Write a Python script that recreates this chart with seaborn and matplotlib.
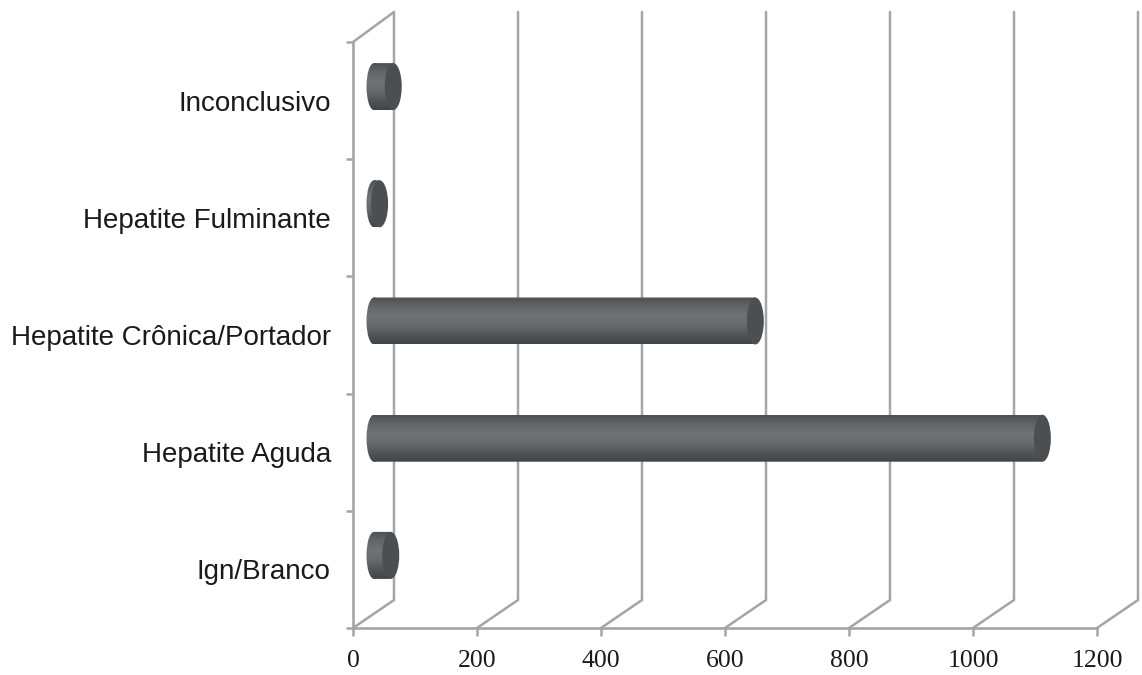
import numpy as np
import pandas as pd
import matplotlib
matplotlib.use("Agg")
import matplotlib.pyplot as plt
import seaborn as sns
from matplotlib.colors import LinearSegmentedColormap
from matplotlib.patches import Ellipse
from matplotlib.path import Path
from matplotlib.transforms import Affine2D

# DATEN

categories = ["Inconclusivo", "Hepatite Fulminante", "Hepatite Crônica/Portador", "Hepatite Aguda", "Ign/Branco"]
values = [31, 9, 615, 1078, 27]
x_ticks = [0, 200, 400, 600, 800, 1000, 1200]

# GEOMETRIE (Pixel des Bildes -> Datenkoordinaten)

PX_X = 744 / 1200      # Pixel pro Einheit auf der x-Achse
PX_Y = 117.2           # Pixel pro Kategorie
DEPTH_X = 41 / PX_X    # Versatz der Rückwand
DEPTH_Y = 28 / PX_Y
BAR_DX = 21 / PX_X     # Balken sitzen in der Mitte der Tiefe
BAR_DY = -14 / PX_Y
CAP_W = 17 / PX_X
LEFT_CAP_W = 15 / PX_X
LINE = "#a4a6a6"

sns.set_style("white")
fig = plt.figure(figsize=(11.42, 6.75), dpi=100)
ax = fig.add_axes([353 / 1142, 47 / 675, 789 / 1142, 616 / 675])

df = pd.DataFrame({"kategorie": categories, "wert": values})
sns.barplot(data=df, x="wert", y="kategorie", orient="h", width=47 / PX_Y,
            color="#555a5d", saturation=1, ax=ax, zorder=3)

x_max = 789 / PX_X
y_top = -0.5 - 30 / PX_Y

# Rückwand: Gitterlinien schräg nach hinten, dann senkrecht nach oben
for t in x_ticks:
    ax.plot([t, t + DEPTH_X, t + DEPTH_X], [4.5, 4.5 - DEPTH_Y, y_top],
            color=LINE, lw=1.8, zorder=1, clip_on=False, solid_joinstyle="miter")
ax.plot([0, DEPTH_X], [-0.5, y_top], color=LINE, lw=1.8, zorder=1, clip_on=False)

# Zylinder: Farbverlauf im Balken, Ellipsen an beiden Enden
cyl_cmap = LinearSegmentedColormap.from_list(
    "zylinder", ["#4e5154", "#626669", "#707375", "#686b6d", "#525558", "#424548"])
gradient = np.linspace(0, 1, 128).reshape(-1, 1)

for bar in ax.patches:
    bar.set_x(bar.get_x() + BAR_DX)
    bar.set_y(bar.get_y() + BAR_DY)
    x0, w = bar.get_x(), bar.get_width()
    y0, h = bar.get_y(), bar.get_height()
    yc = y0 + h / 2

    left_cap = Ellipse((x0, yc), LEFT_CAP_W, h)
    rect_path = bar.get_patch_transform().transform_path(bar.get_path())
    cap_path = left_cap.get_patch_transform().transform_path(left_cap.get_path())
    body = Path.make_compound_path(rect_path, cap_path)

    img = ax.imshow(gradient, cmap=cyl_cmap, aspect="auto", origin="upper",
                    extent=(x0 - CAP_W, x0 + w + CAP_W, y0 + h, y0), zorder=4,
                    interpolation="bilinear")
    img.set_clip_path(body, Affine2D() + ax.transData)

    ax.add_patch(Ellipse((x0 + w, yc), CAP_W, h, facecolor="#4b4f52",
                         edgecolor="none", zorder=5))
    bar.set_visible(False)

ax.set_xlim(0, x_max)
ax.set_ylim(4.5, y_top)

# ACHSEN

ax.set_xlabel("")
ax.set_ylabel("")
ax.set_xticks(x_ticks)
ax.set_yticks(np.arange(-0.5, 5, 1), minor=True)
ax.tick_params(axis="x", which="major", bottom=True, length=6, width=1.8, color=LINE, pad=10)
ax.tick_params(axis="y", which="major", left=False, length=0, pad=16)
ax.tick_params(axis="y", which="minor", left=True, length=5, width=1.8, color=LINE)
for label in ax.get_xticklabels():
    label.set_fontfamily("Liberation Serif")
    label.set_fontsize(18.5)
    label.set_color("#1a1a1a")
for label in ax.get_yticklabels():
    label.set_fontfamily("Liberation Sans")
    label.set_fontsize(20)
    label.set_color("#1a1a1a")

sns.despine(ax=ax, top=True, right=True)
ax.spines["left"].set_bounds(-0.5, 4.5)
ax.spines["bottom"].set_bounds(0, 1200)
for side in ["left", "bottom"]:
    ax.spines[side].set_color(LINE)
    ax.spines[side].set_linewidth(1.9)

fig.savefig("out.png", dpi=100)
